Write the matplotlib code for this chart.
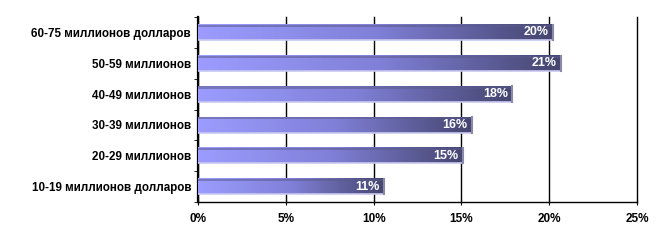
import numpy as np
import matplotlib
matplotlib.use("Agg")
import matplotlib.pyplot as plt
from matplotlib.colors import LinearSegmentedColormap

categories = ["60-75 миллионов долларов", "50-59 миллионов", "40-49 миллионов",
              "30-39 миллионов", "20-29 миллионов", "10-19 миллионов долларов"]
values = [20.2, 20.7, 17.9, 15.6, 15.1, 10.6]
labels = ["20%", "21%", "18%", "16%", "15%", "11%"]
xticks = [0, 5, 10, 15, 20, 25]
xticklabels = ["0%", "5%", "10%", "15%", "20%", "25%"]

plt.rcParams['font.family'] = ['Liberation Sans', 'DejaVu Sans']

fig = plt.figure(figsize=(6.61, 2.42), dpi=100)
ax = fig.add_axes([198/661, 1 - 202/242, (637-198)/661, (202-17)/242])

cmap = LinearSegmentedColormap.from_list("g", ["#9c9cff", "#8080d8", "#45456f"])
grad = np.linspace(0, 1, 256).reshape(1, -1)

n = len(categories)
ypos = np.arange(n)[::-1]  # top category at top
h = 0.5
bars = ax.barh(ypos, values, height=h, color="none", edgecolor="none", zorder=3)
for b, y, v, lab in zip(bars, ypos, values, labels):
    ax.imshow(grad, extent=(0, v, y - h/2, y + h/2), cmap=cmap, aspect="auto",
              zorder=3, interpolation="bilinear")
    # 3D edges
    ax.fill_between([0, v], y + h/2 - 0.07, y + h/2, color="#5a5a8a", alpha=0.55, zorder=4, linewidth=0)
    ax.plot([0, v], [y - h/2, y - h/2], color="#c8c8f0", lw=1.2, zorder=4)
    ax.plot([v, v], [y - h/2, y + h/2], color="#8a8aa8", lw=1.5, zorder=4)
    ax.text(v - 0.25, y, lab, ha="right", va="center", color="white",
            fontsize=9, fontweight="bold", zorder=5)

ax.set_xlim(0, 25)
ax.set_ylim(-0.5, n - 0.5)
ax.set_xticks(xticks)
ax.set_xticklabels(xticklabels, fontsize=8.5, fontweight="bold")
ax.set_yticks(ypos)
ax.set_yticklabels(categories, fontsize=8.4, fontweight="bold")
ax.tick_params(axis="y", length=0, pad=5)
ax.set_yticks(np.arange(-0.5, n, 1.0), minor=True)
ax.tick_params(axis="y", which="minor", length=3, direction="out", color="black")
ax.tick_params(axis="x", length=4, direction="inout", color="black", pad=6)
ax.grid(axis="x", color="black", lw=1, zorder=1)
for gl in ax.get_xgridlines():
    gl.set_clip_on(False)
for s in ["top", "right"]:
    ax.spines[s].set_visible(False)
ax.spines["left"].set_linewidth(1.6)
ax.spines["bottom"].set_linewidth(1.0)

fig.savefig("out.png", dpi=100)
